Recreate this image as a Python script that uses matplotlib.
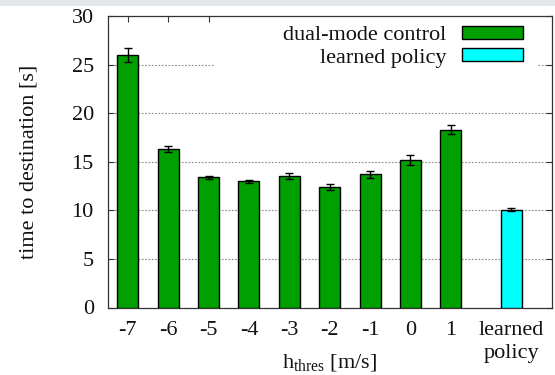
import numpy as np
import matplotlib.pyplot as plt
from matplotlib.patches import Rectangle, Patch

plt.rcParams['font.family'] = ['Liberation Serif', 'DejaVu Serif']

# data
thresholds = ['-7', '-6', '-5', '-4', '-3', '-2', '-1', '0', '1']
dual_time = [26.0, 16.3, 13.4, 13.0, 13.5, 12.4, 13.7, 15.2, 18.3]
dual_err = [0.7, 0.3, 0.17, 0.15, 0.3, 0.35, 0.4, 0.5, 0.48]
learned_time = [10.07]
learned_err = [0.15]

green = '#00a000'
cyan = '#00ffff'
fs = 16

fig = plt.figure(figsize=(5.55, 3.75), dpi=100)
# light strip across the top of the screenshot
fig.patches.append(Rectangle((0, 0.985), 1, 0.015, transform=fig.transFigure,
                             facecolor='#e4e8ec', edgecolor='none'))
ax = fig.add_axes([0.194, 0.180, 0.800, 0.777])

x_dual = np.arange(len(thresholds))
x_learned = np.array([len(thresholds) + 0.5])

ax.bar(x_dual, dual_time, width=0.52, color=green, edgecolor='black',
       linewidth=1.0, zorder=3)
ax.errorbar(x_dual, dual_time, yerr=dual_err, fmt='none', ecolor='black',
            elinewidth=1.0, capsize=3, capthick=1.0, zorder=4)
ax.bar(x_learned, learned_time, width=0.52, color=cyan, edgecolor='black',
       linewidth=1.0, zorder=3)
ax.errorbar(x_learned, learned_time, yerr=learned_err, fmt='none', ecolor='black',
            elinewidth=1.0, capsize=3, capthick=1.0, zorder=4)

ax.set_xlim(-0.5, 10.5)
ax.set_ylim(0, 30)
ax.set_yticks(np.arange(0, 31, 5))
ax.set_xticks(list(x_dual) + list(x_learned))
ax.set_xticklabels(thresholds + ['learned\npolicy'], linespacing=1.25)

# dotted horizontal grid, not on the top border
for yv in range(5, 30, 5):
    ax.axhline(yv, color='#888888', linestyle=(0, (1.5, 1.5)), linewidth=0.8, zorder=1)

# white key area hides the grid like gnuplot does
ax.add_patch(Rectangle((0.241, 0.80), 0.727, 0.2, transform=ax.transAxes,
                       facecolor='white', edgecolor='none', zorder=2))

ax.tick_params(direction='in', top=True, right=True, labelsize=fs, length=4,
               width=0.8, colors='#333333', labelcolor='#111111')
ax.tick_params(axis='y', pad=10)
ax.tick_params(axis='x', pad=10)
for s in ax.spines.values():
    s.set_linewidth(0.9)
    s.set_color('#333333')

ax.set_ylabel('time to destination [s]', fontsize=fs, labelpad=24, color='#111111')
ax.set_xlabel(r'h$_{\mathregular{thres}}$ [m/s]', fontsize=fs, color='#111111')
ax.xaxis.set_label_coords(0.5, -0.155)

handles = [Patch(facecolor=green, edgecolor='black', linewidth=1.0),
           Patch(facecolor=cyan, edgecolor='black', linewidth=1.0)]
leg = ax.legend(handles, ['dual-mode control', 'learned policy'], loc='upper right',
                bbox_to_anchor=(0.97, 1.02), fontsize=fs, markerfirst=False,
                handlelength=2.75, handleheight=0.55, labelspacing=0.12,
                handletextpad=0.7, borderpad=0.2, frameon=False)
for t in leg.get_texts():
    t.set_ha('right')
    t.set_color('#111111')

fig.savefig('out.png', dpi=100)
